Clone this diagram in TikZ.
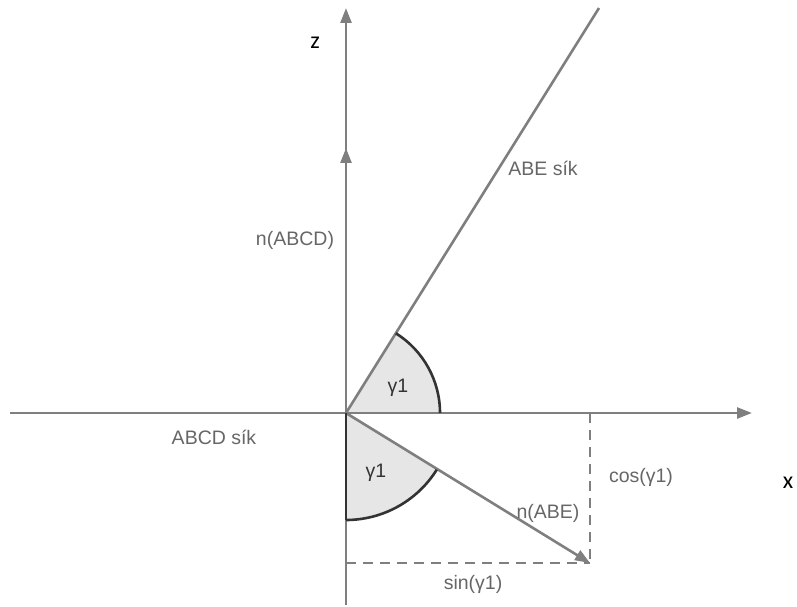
\documentclass[tikz,border=0pt]{standalone}
\usepackage{fontspec}
\setmainfont{Liberation Sans}
\newfontfamily\axisfont{Carlito}
\usetikzlibrary{arrows.meta,calc}
\definecolor{axisgray}{HTML}{7F7F7F}
\definecolor{textgray}{HTML}{666666}
\definecolor{arcgray}{HTML}{333333}
\definecolor{fillgray}{HTML}{E6E6E6}
\tikzset{
  axis/.style={draw=axisgray, line width=2.6pt, -{Triangle[length=15pt,width=11pt]}},
  vec/.style={draw=axisgray, line width=2.6pt, -{Triangle[length=15pt,width=11pt]}},
  plane/.style={draw=axisgray, line width=2.6pt},
  helper/.style={draw=axisgray, line width=2.6pt, dash pattern=on 10pt off 7pt},
  sector/.style={fill=fillgray},
  arcline/.style={draw=arcgray, line width=2.6pt},
  lbl/.style={font=\fontsize{19.5}{22}\selectfont, text=textgray, inner sep=1pt},
  axlbl/.style={font=\axisfont\fontsize{24}{27}\selectfont, text=black, inner sep=1pt},
}
\begin{document}
\begin{tikzpicture}[x=1pt, y=1pt]
  \useasboundingbox (0,0) rectangle (797,606);
  % points
  \coordinate (O) at (346,193);
  \coordinate (xl) at (10,193);
  \coordinate (xr) at (752,193);
  \coordinate (zb) at (346,1);
  \coordinate (zt) at (346,598);
  \coordinate (nabcd) at (346,458);
  \coordinate (abe) at (599,598);
  \coordinate (nabe) at (590,43);
  \coordinate (foot) at (590,193);
  \coordinate (zfoot) at (346,43);
  % angle sectors
  \path[sector] (O) -- ++(0:94) arc[start angle=0, end angle=58, radius=94] -- cycle;
  \path[sector] (O) -- ++(-90:107) arc[start angle=-90, end angle=-32, radius=107] -- cycle;
  % axes and planes
  \draw[axis] (xl) -- (xr);
  \draw[axis] (zb) -- (zt);
  \draw[vec] (O) -- (nabcd);
  \draw[plane] (O) -- (abe);
  \draw[vec] (O) -- (nabe);
  % projections
  \draw[helper] (foot) -- (nabe);
  \draw[helper] (zfoot) -- (nabe);
  % arcs
  \draw[arcline] ($(O)+(0:94)$) arc[start angle=0, end angle=58, radius=94];
  \draw[arcline] ($(O)+(-90:107)$) arc[start angle=-90, end angle=-32, radius=107];
  \draw[arcline, line width=2pt] (zfoot |- 0,86) -- (O);
  % labels
  \node[axlbl] (zlbl) at (315,563) {z};
  \node[axlbl] (xlbl) at (788,123) {x};
  \node[lbl] (abesik) at (543,438) {ABE sík};
  \node[lbl] (nabcdlbl) at (295,366) {n(ABCD)};
  \node[lbl] (abcdsik) at (214,169) {ABCD sík};
  \node[lbl, text=arcgray] (g1) at (398,218) {γ1};
  \node[lbl, text=arcgray] (g2) at (376,133) {γ1};
  \node[lbl] (coslbl) at (641,129) {cos(γ1)};
  \node[lbl] (nabelbl) at (548,93) {n(ABE)};
  \node[lbl] (sinlbl) at (473,22) {sin(γ1)};
\end{tikzpicture}
\end{document}
